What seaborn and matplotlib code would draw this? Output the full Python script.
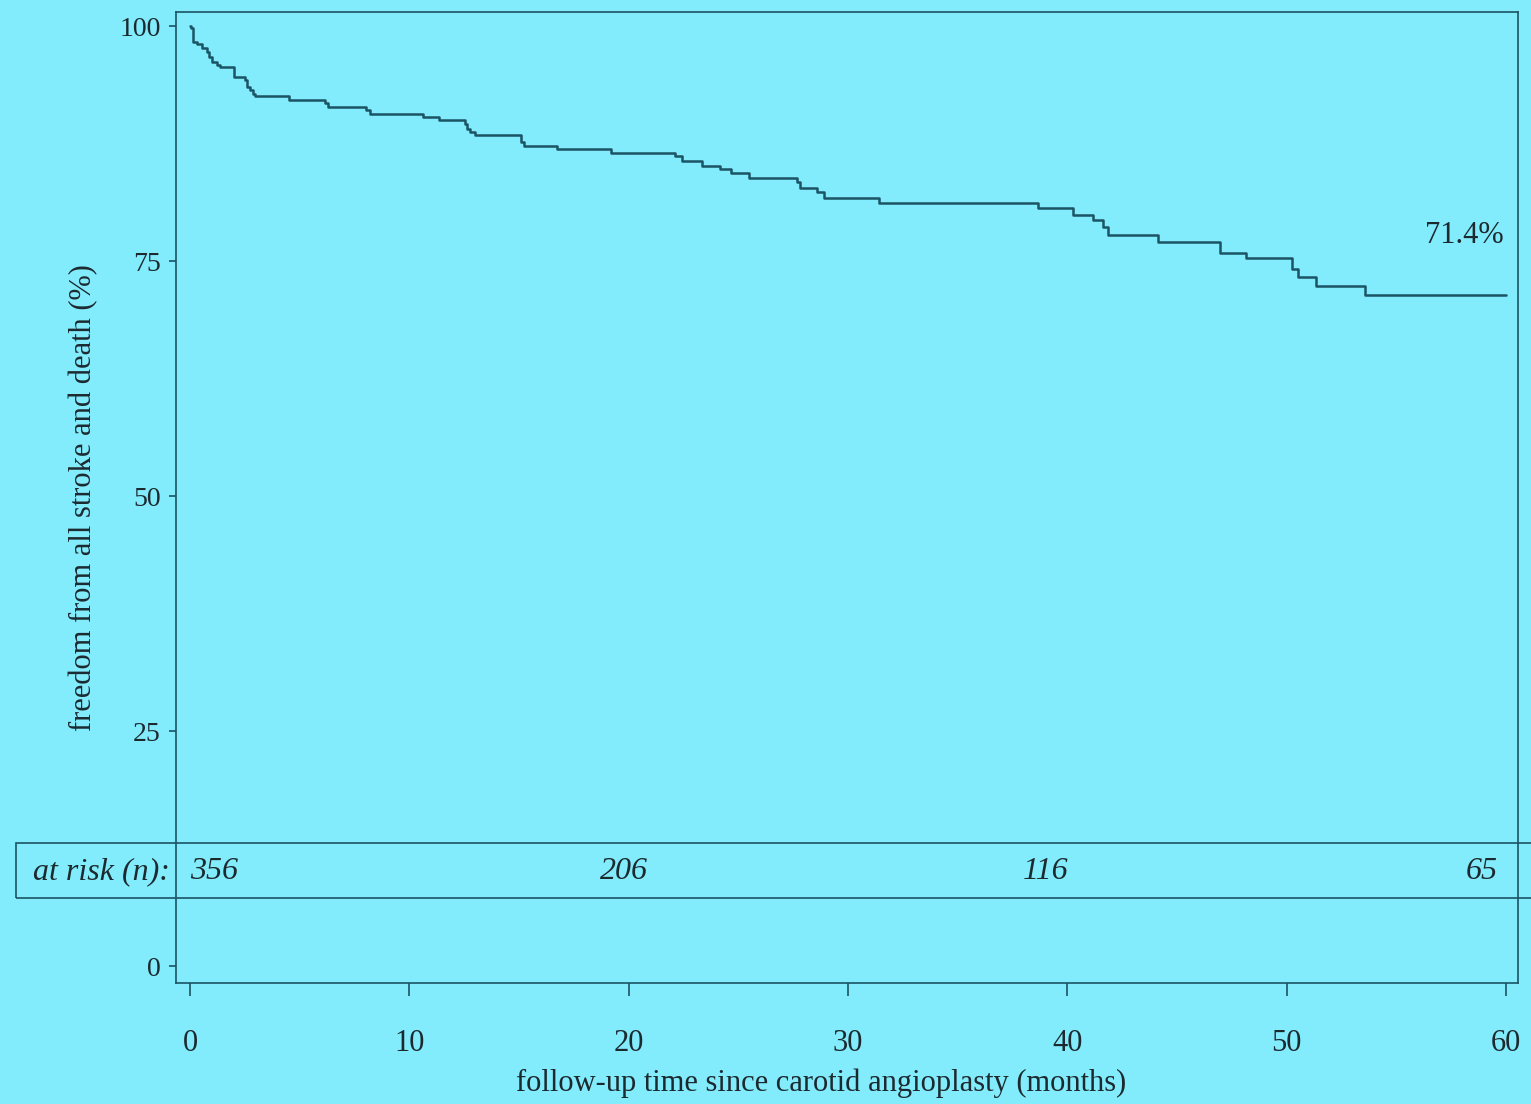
import matplotlib
matplotlib.use("Agg")
import matplotlib.pyplot as plt
from matplotlib.patches import Rectangle
import seaborn as sns
import pandas as pd

# ---- data ----
months = [0, 0.05, 0.15, 0.3, 0.53, 0.76, 0.88, 0.99, 1.22, 1.37, 1.98, 2.51, 2.61,
          2.74, 2.86, 2.96, 4.53, 6.16, 6.31, 8.03, 8.21, 10.64, 11.37, 12.54, 12.62,
          12.77, 13.0, 15.08, 15.23, 16.75, 19.18, 22.1, 22.42, 23.33, 24.17, 24.65,
          25.46, 27.66, 27.81, 28.58, 28.88, 31.39, 38.64, 40.24, 41.15, 41.62, 41.87,
          44.14, 46.96, 48.12, 50.24, 50.52, 51.32, 53.59, 60.0]
freedom = [100, 99.75, 98.3, 98.05, 97.7, 97.3, 96.7, 96.2, 95.85, 95.6, 94.6, 94.25,
           93.5, 93.2, 92.8, 92.55, 92.1, 91.8, 91.4, 91.1, 90.7, 90.35, 90.0, 89.6,
           89.1, 88.75, 88.4, 87.7, 87.2, 86.9, 86.5, 86.2, 85.7, 85.1, 84.85, 84.4,
           83.8, 83.4, 82.8, 82.4, 81.7, 81.2, 80.6, 79.9, 79.4, 78.65, 77.8, 77.05,
           75.9, 75.3, 74.2, 73.3, 72.3, 71.4, 71.4]
risk_months = [0, 19.8, 39.0, 58.9]
risk_counts = ["356", "206", "116", "65"]
x_ticks = [0, 10, 20, 30, 40, 50, 60]
y_ticks = [0, 25, 50, 75, 100]
final_label = "71.4%"

BG = "#82ecfc"
INK = "#1b5464"
TXT = "#1c2a30"

sns.set_theme(style="white")
plt.rcParams["font.family"] = ["Liberation Serif", "DejaVu Serif"]

fig = plt.figure(figsize=(15.31, 11.04), dpi=100, facecolor=BG)
ax = fig.add_axes([0.115, 0.1096, 0.8766, 0.8795])
ax.set_facecolor(BG)

df = pd.DataFrame({"month": months, "freedom": freedom})
sns.lineplot(data=df, x="month", y="freedom", ax=ax, estimator=None, sort=False,
             drawstyle="steps-post", color=INK, linewidth=1.8)

ax.set_xlim(-0.64, 60.55)
ax.set_ylim(-1.8, 101.5)
ax.set_xticks(x_ticks)
ax.set_yticks(y_ticks)
ax.tick_params(axis="x", direction="out", length=9, width=1.2, color=INK,
               pad=24, labelsize=22, labelcolor=TXT, bottom=True)
ax.tick_params(axis="y", direction="out", length=5, width=1.2, color=INK,
               pad=6, labelsize=20, labelcolor=TXT, left=True)
for s in ax.spines.values():
    s.set_color(INK)
    s.set_linewidth(1.2)

ax.set_xlabel("follow-up time since carotid angioplasty (months)", fontsize=22,
              color=TXT)
ax.xaxis.set_label_coords((821 - 176) / 1342, -(1083 - 983) / 971, transform=ax.transAxes)
ax.xaxis.label.set_va("center")
ax.set_ylabel("freedom from all stroke and death (%)", fontsize=22, color=TXT,
              labelpad=15)

ax.text(59.9, 77.7, final_label, ha="right", va="center", fontsize=22, color=TXT)

# at-risk box (figure pixel coordinates)
W, H = 1531, 1104
box_top, box_bot = 843, 898
rect = Rectangle((16 / W, 1 - box_bot / H), (1560 - 16) / W, (box_bot - box_top) / H,
                 transform=fig.transFigure, fill=False, edgecolor=INK, linewidth=1.2,
                 clip_on=False)
fig.add_artist(rect)
ymid = 1 - ((box_top + box_bot) / 2 + 1) / H
fig.text(33 / W, ymid, "at risk (n):", ha="left", va="center", fontsize=23,
         style="italic", color=TXT)
for m, c in zip(risk_months, risk_counts):
    xf = ax.transData.transform((m, 0))[0]
    xf = fig.transFigure.inverted().transform((xf, 0))[0]
    fig.text(xf, ymid, c, ha="left" if m == 0 else "center", va="center",
             fontsize=23, style="italic", color=TXT)

fig.savefig("out.png", dpi=100, facecolor=BG)
